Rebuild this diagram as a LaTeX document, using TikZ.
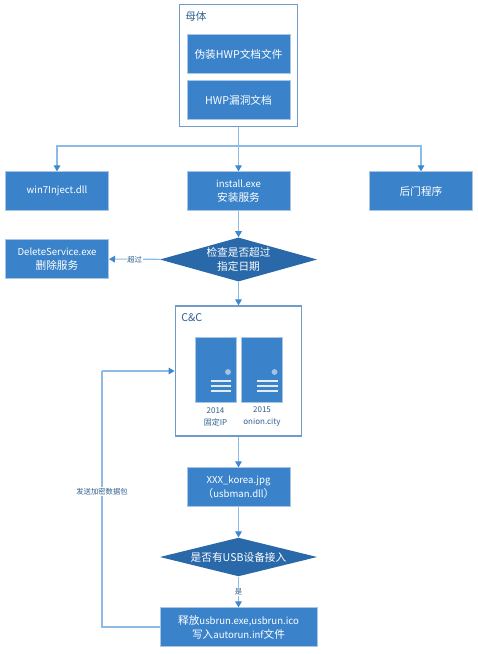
\documentclass[tikz,border=0pt]{standalone}
\usepackage{fontspec}
\setmainfont{Noto Sans CJK SC}
\usetikzlibrary{arrows.meta,shapes.geometric}
\definecolor{flowBlue}{HTML}{3A83CB}
\definecolor{flowDeep}{HTML}{2A69A9}
\definecolor{flowEdge}{HTML}{A9C6E4}
\definecolor{flowFrame}{HTML}{6F9CC8}
\definecolor{flowLine}{HTML}{8DBBE8}
\definecolor{flowTip}{HTML}{3F87D0}
\definecolor{flowInk}{HTML}{2F5F8F}
\definecolor{flowPale}{HTML}{A3C4E2}
\newcommand{\latin}[1]{{\fontsize{7.2}{10.5}\selectfont #1}}
\tikzset{
  every picture/.style={font=\fontsize{8}{10.5}\selectfont},
  flow box/.style={draw=flowEdge, line width=0.5pt, fill=flowBlue, text=white,
    align=center, inner sep=0pt, minimum width=77.5pt, minimum height=29pt},
  flow wide/.style={flow box, minimum width=118pt},
  flow frame/.style={draw=flowFrame, line width=0.9pt, fill=white, inner sep=0pt},
  flow diamond/.style={diamond, fill=flowDeep, inner sep=0pt, aspect=3.6,
    minimum width=118pt, minimum height=33pt},
  flow text/.style={text=white, align=center, inner sep=0pt},
  flow title/.style={text=flowInk, inner sep=0pt},
  flow server/.style={draw=flowEdge, line width=0.5pt, fill=flowBlue, inner sep=0pt,
    minimum width=31pt, minimum height=49pt},
  flow caption/.style={text=flowInk, align=center, inner sep=0pt,
    font=\fontsize{6}{9}\selectfont},
  flow small/.style={text=flowInk, fill=white, inner sep=0.6pt,
    font=\fontsize{5.5}{7}\selectfont},
  flow line/.style={draw=flowLine, line width=0.8pt},
  flow arrow/.style={flow line, -{Triangle[length=4.5pt,width=5pt,color=flowTip]}},
  flow rule/.style={draw=white!85!flowBlue, line width=0.8pt}
}
\begin{document}
\begin{tikzpicture}[x=0.75pt,y=-0.75pt]
  \useasboundingbox (0,0) rectangle (478,654);
  % top group
  \node[flow frame, minimum width=89pt, minimum height=92pt] (mother) at (238.5,65.5) {};
  \node[flow title, anchor=west] (motherTitle) at (185,16) {母体};
  \node[flow box] (fake) at (238.5,54) {伪装HWP文档文件};
  \node[flow box] (exploit) at (238.5,100) {HWP漏洞文档};
  % second row
  \coordinate (split) at (238.5,146);
  \node[flow box] (win7) at (57,191) {\latin{win7Inject.dll}};
  \node[flow box] (install) at (238.5,191) {\latin{install.exe}\\安装服务};
  \node[flow box] (backdoor) at (421,191) {后门程序};
  \node[flow box] (delete) at (57,259) {\latin{DeleteService.exe}\\删除服务};
  \node[flow diamond, label={[flow text]center:{检查是否超过\\指定日期}}] (check) at (238.5,259.5) {};
  % C&C group
  \node[flow frame, minimum width=95pt, minimum height=97.5pt] (cc) at (238.5,371) {};
  \node[flow title, anchor=west] (ccTitle) at (181,318) {C\&C};
  \foreach \name/\xpos/\year/\host in {srvA/215.5/2014/固定IP,srvB/262/2015/onion.city} {
    \node[flow server] (\name) at (\xpos,369.5) {};
    \fill[flowPale] (\xpos+12.5,372) circle (2.9);
    \draw[flow rule] (\xpos-5,381) -- (\xpos+15.5,381) (\xpos-5,386) -- (\xpos+15.5,386) (\xpos-5,391) -- (\xpos+15.5,391);
    \node[flow caption] (\name Text) at (\xpos,417) {\year\\\host};
  }
  % lower part
  \node[flow box] (korea) at (238.5,487) {\latin{XXX\_korea.jpg}\\（\latin{usbman.dll}）};
  \node[flow diamond, minimum height=29pt, label={[flow text]center:{是否有USB设备接入}}] (usb) at (238.5,557) {};
  \node[flow wide] (release) at (238.5,627) {释放\latin{usbrun.exe,usbrun.ico}\\写入\latin{autorun.inf}文件};
  \coordinate (loop) at (102,371);
  % connectors
  \draw[flow line] (mother) -- (split);
  \draw[flow line] (win7 |- split) -- (backdoor |- split);
  \draw[flow arrow] (split) -| (win7);
  \draw[flow arrow] (split) -- (install);
  \draw[flow arrow] (split) -| (backdoor);
  \draw[flow arrow] (install) -- (check);
  \draw[flow arrow] (check) -- (delete) node[midway, flow small] {超过};
  \draw[flow arrow] (check) -- (cc);
  \draw[flow arrow] (cc) -- (korea);
  \draw[flow arrow] (korea) -- (usb);
  \draw[flow arrow] (usb) -- (release) node[midway, flow small] {是};
  \draw[flow line] (release) -| (loop) node[pos=0.765, flow small] {发送加密数据包};
  \draw[flow arrow] (loop) -- (cc);
\end{tikzpicture}
\end{document}
